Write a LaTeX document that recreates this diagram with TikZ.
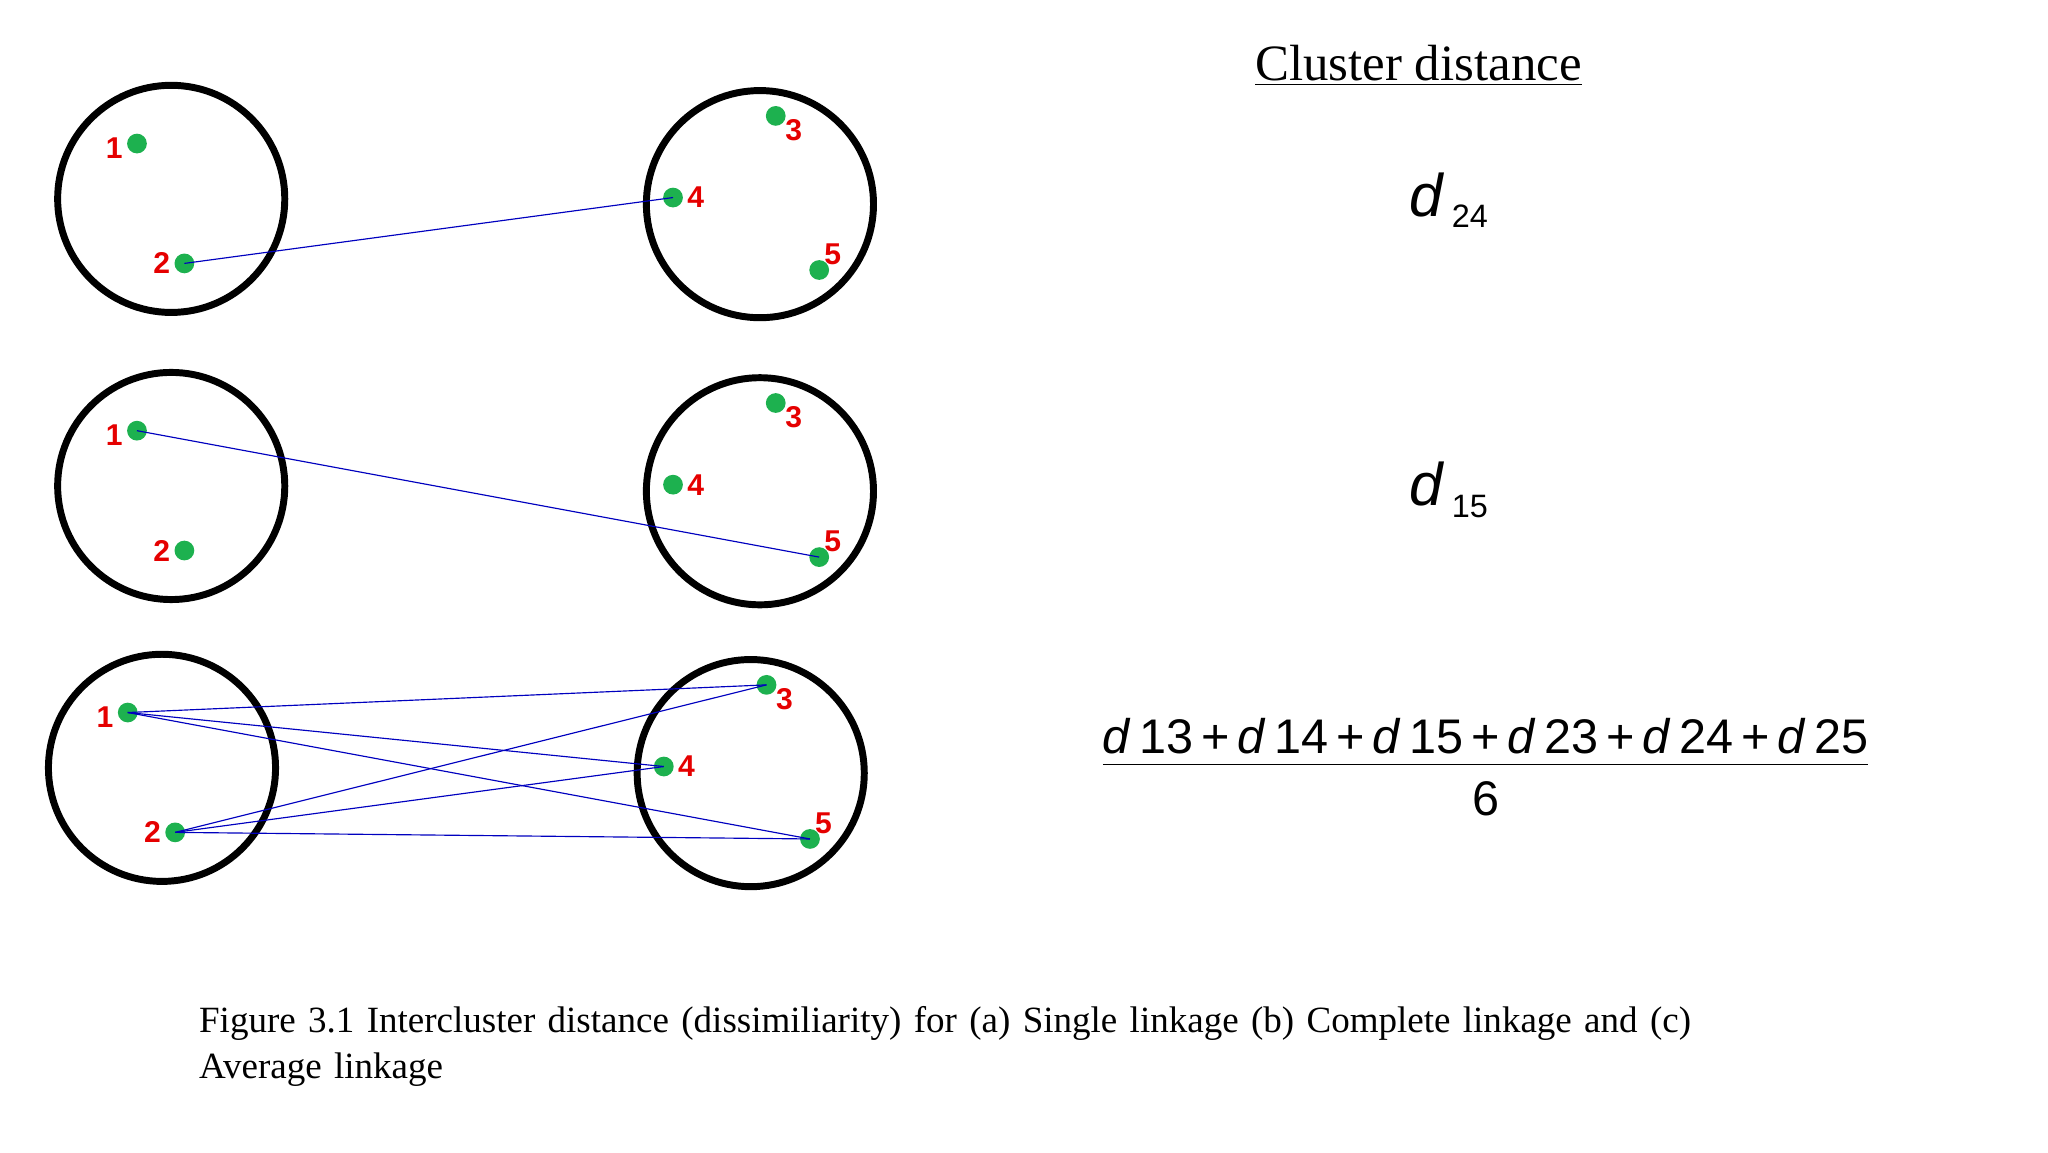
\documentclass[tikz,border=0pt]{standalone}
\usepackage{fontspec}
\setmainfont{Liberation Serif}
\newfontfamily\sff{Liberation Sans}
\begin{document}
\begin{tikzpicture}[x=0.02cm,y=-0.02cm,
  clu/.style={draw=black,line width=3pt,circle,minimum size=3.45cm,inner sep=0},
  pt/.style={fill=ptgreen,circle,minimum size=0.3cm,inner sep=0},
  lab/.style={text=red!90!black,font=\sff\bfseries\fontsize{13}{13}\selectfont,inner sep=1pt},
  ln/.style={draw=blue!75!black,line width=0.5pt},
  dd/.style={font=\sff\itshape\fontsize{26}{26}\selectfont}]
\definecolor{ptgreen}{HTML}{1DB14F}
\useasboundingbox (0,0) rectangle (1555,875);
\foreach \r/\dy/\dx in {a/0/-3,b/218/-3,c/432/-10}{
  \node[clu] (\r L) at (133+\dx,151+\dy) {};
  \node[clu] (\r R) at (580+\dx,155+\dy) {};
  \node[pt] (\r1) at (107+\dx,109+\dy) {};
  \node[pt] (\r2) at (143+\dx,200+\dy) {};
  \node[pt] (\r3) at (592+\dx,88+\dy) {};
  \node[pt] (\r4) at (514+\dx,150+\dy) {};
  \node[pt] (\r5) at (625+\dx,205+\dy) {};
  \node[lab,anchor=east,xshift=-5pt,yshift=-2pt] at (\r1.center) {1};
  \node[lab,anchor=east,xshift=-5pt] at (\r2.center) {2};
  \node[lab,anchor=west,xshift=3pt,yshift=-6pt] at (\r3.center) {3};
  \node[lab,anchor=west,xshift=5pt] at (\r4.center) {4};
  \node[lab,anchor=south west,xshift=1pt,yshift=1pt] at (\r5.center) {5};
}
\draw[ln] (a2.center) -- (a4.center);
\draw[ln] (b1.center) -- (b5.center);
\foreach \i in {1,2}{\foreach \j in {3,4,5}{\draw[ln] (c\i.center) -- (c\j.center);}}
\node[font=\fontsize{22}{22}\selectfont] (title) at (1077,50) {\underline{Cluster distance}};
\node[dd] (s) at (1100,152) {d\fontsize{14}{14}\selectfont\upshape\raisebox{-5pt}{ 24}};
\node[dd] (c) at (1100,372) {d\fontsize{14}{14}\selectfont\upshape\raisebox{-5pt}{ 15}};
\node[font=\sff\fontsize{21}{21}\selectfont,inner sep=0] (avg) at (1128,588) {\begin{tabular}{@{}c@{}}\textit{d}\,13\,+\,\textit{d}\,14\,+\,\textit{d}\,15\,+\,\textit{d}\,23\,+\,\textit{d}\,24\,+\,\textit{d}\,25\\[-2pt]\hline\rule{0pt}{22pt}6\end{tabular}};
\node[anchor=north west,align=left,font=\fontsize{16}{20}\selectfont,text width=28cm] (cap) at (145,758) {Figure 3.1 Intercluster distance (dissimiliarity) for (a) Single linkage (b) Complete linkage and (c)\\Average linkage};
\end{tikzpicture}
\end{document}
